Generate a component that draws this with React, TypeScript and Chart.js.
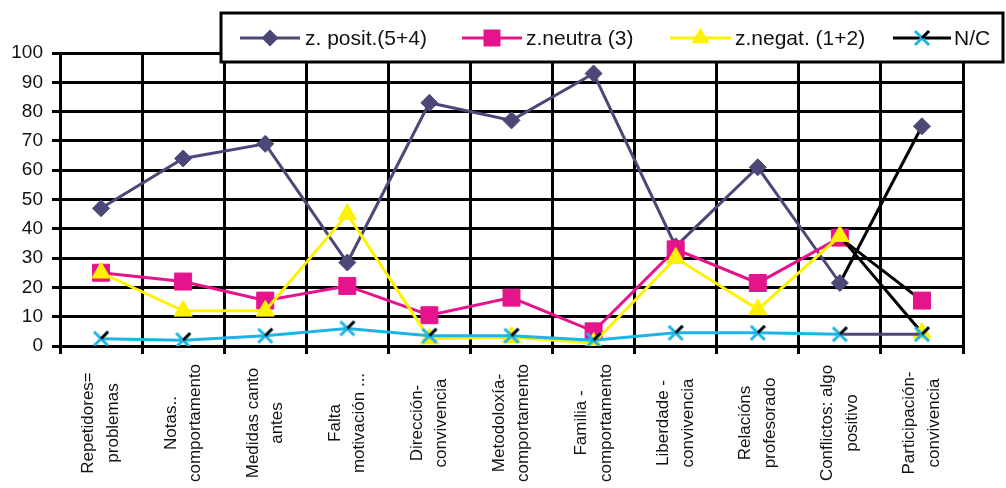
import React, { useEffect, useRef } from 'react';
import { Chart, registerables } from 'chart.js';

Chart.register(...registerables);

// ---------- data ----------
const categories: string[][] = [
  ['Repetidores=', 'problemas'],
  ['Notas..', 'comportamento'],
  ['Medidas canto', 'antes'],
  ['Falta', 'motivación ...'],
  ['Dirección-', 'convivencia'],
  ['Metodoloxía-', 'comportamento'],
  ['Familia -', 'comportamento'],
  ['Liberdade -', 'convivencia'],
  ['Relacións', 'profesorado'],
  ['Conflictos: algo', 'positivo'],
  ['Participación-', 'convivencia'],
];

const seriesNames = ['z. posit.(5+4)', 'z.neutra (3)', 'z.negat. (1+2)', 'N/C'];

const positValues = [47, 64, 69, 28.5, 83, 77, 93, 34, 61, 21.5, 75];
const neutraValues = [25, 22, 15.5, 20.5, 10.5, 16.5, 5, 33, 21.5, 37, 15.5];
const negatValues = [25, 12, 12, 45, 2.5, 3, 1, 30, 12.5, 37.5, 4.5];
const ncValues = [2.5, 2, 3.5, 6, 3.5, 3.5, 2, 4.5, 4.5, 4, 4];

const yMin = 0;
const yMax = 100;
const yStep = 10;

// ---------- styles ----------
const PURPLE = '#4b4878';
const MAGENTA = '#e6148c';
const YELLOW = '#fff200';
const CYAN = '#1eb4e6';
const BLACK = '#000000';
const FONT = '"Liberation Sans", Arial, sans-serif';

function makeNCMarker(): HTMLCanvasElement {
  const c = document.createElement('canvas');
  c.width = 18;
  c.height = 18;
  const g = c.getContext('2d')!;
  g.lineWidth = 3;
  g.strokeStyle = CYAN;
  g.beginPath();
  g.moveTo(2, 2);
  g.lineTo(16, 16);
  g.moveTo(2, 16);
  g.lineTo(16, 2);
  g.stroke();
  g.strokeStyle = BLACK;
  g.lineWidth = 2.8;
  g.beginPath();
  g.moveTo(9, 9);
  g.lineTo(16, 2);
  g.stroke();
  return c;
}

function drawMarker(ctx: CanvasRenderingContext2D, kind: string, x: number, y: number, color: string, img?: HTMLCanvasElement) {
  ctx.save();
  ctx.fillStyle = color;
  ctx.beginPath();
  if (kind === 'diamond') {
    const r = 8.5;
    ctx.moveTo(x - r, y);
    ctx.lineTo(x, y - r);
    ctx.lineTo(x + r, y);
    ctx.lineTo(x, y + r);
    ctx.closePath();
    ctx.fill();
  } else if (kind === 'square') {
    const s = 8.5;
    ctx.rect(x - s, y - s, 2 * s, 2 * s);
    ctx.fill();
  } else if (kind === 'triangle') {
    const r = 10.5;
    ctx.moveTo(x, y - r);
    ctx.lineTo(x + r * Math.sin((2 * Math.PI) / 3), y + r / 2);
    ctx.lineTo(x - r * Math.sin((2 * Math.PI) / 3), y + r / 2);
    ctx.closePath();
    ctx.fill();
  } else if (kind === 'nc' && img) {
    ctx.drawImage(img, x - img.width / 2, y - img.height / 2);
  }
  ctx.restore();
}

export default function App() {
  const ref = useRef<HTMLCanvasElement | null>(null);

  useEffect(() => {
    if (!ref.current) return;
    const ncImg = makeNCMarker();

    const lastSeg = (color: string) => (ctx: any) => (ctx.p0DataIndex === categories.length - 2 ? color : undefined);

    const xLabelsPlugin = {
      id: 'xLabelsCustom',
      afterDraw(chart: any) {
        const ctx: CanvasRenderingContext2D = chart.ctx;
        const xs = chart.scales.x;
        ctx.save();
        ctx.font = `17px ${FONT}`;
        ctx.fillStyle = '#111111';
        ctx.textAlign = 'center';
        ctx.textBaseline = 'middle';
        categories.forEach((lines, i) => {
          const x = xs.getPixelForTick(i);
          ctx.save();
          ctx.translate(x, 423);
          ctx.rotate(-Math.PI / 2);
          lines.forEach((ln, j) => {
            ctx.fillText(ln, 0, (j - (lines.length - 1) / 2) * 24.5);
          });
          ctx.restore();
        });
        ctx.restore();
      },
    };

    const legendPlugin = {
      id: 'legendBox',
      afterDraw(chart: any) {
        const ctx: CanvasRenderingContext2D = chart.ctx;
        ctx.save();
        const bx = 221, by = 13, bw = 1003 - 221, bh = 62 - 13;
        ctx.fillStyle = '#ffffff';
        ctx.fillRect(bx, by, bw, bh);
        ctx.lineWidth = 3;
        ctx.strokeStyle = BLACK;
        ctx.strokeRect(bx, by, bw, bh);
        const items = [
          { x0: 240, x1: 300, tx: 305, line: PURPLE, marker: 'diamond', mc: PURPLE },
          { x0: 462, x1: 522, tx: 526, line: MAGENTA, marker: 'square', mc: MAGENTA },
          { x0: 670, x1: 731, tx: 735, line: YELLOW, marker: 'triangle', mc: YELLOW },
          { x0: 893, x1: 951, tx: 954, line: BLACK, marker: 'nc', mc: CYAN },
        ];
        const y = 38;
        items.forEach((it, i) => {
          ctx.strokeStyle = it.line;
          ctx.lineWidth = 3;
          ctx.beginPath();
          ctx.moveTo(it.x0, y);
          ctx.lineTo(it.x1, y);
          ctx.stroke();
          drawMarker(ctx, it.marker, (it.x0 + it.x1) / 2, y, it.mc, ncImg);
          ctx.fillStyle = '#111111';
          ctx.font = `21px ${FONT}`;
          ctx.textAlign = 'left';
          ctx.textBaseline = 'middle';
          ctx.fillText(seriesNames[i], it.tx, y + 1);
        });
        ctx.restore();
      },
    };

    const chart = new Chart(ref.current, {
      type: 'line',
      data: {
        labels: categories,
        datasets: [
          {
            label: seriesNames[0],
            data: positValues,
            borderColor: PURPLE,
            backgroundColor: PURPLE,
            borderWidth: 3,
            pointStyle: 'rectRot',
            pointRadius: 8.5,
            pointBorderWidth: 1,
            pointBorderColor: PURPLE,
            pointBackgroundColor: PURPLE,
            tension: 0,
            order: 4,
            segment: { borderColor: lastSeg(BLACK) },
          },
          {
            label: seriesNames[1],
            data: neutraValues,
            borderColor: MAGENTA,
            backgroundColor: MAGENTA,
            borderWidth: 3,
            pointStyle: 'rect',
            pointRadius: 12,
            pointBorderWidth: 1,
            pointBorderColor: MAGENTA,
            pointBackgroundColor: MAGENTA,
            tension: 0,
            order: 3,
            segment: { borderColor: lastSeg(BLACK) },
          },
          {
            label: seriesNames[2],
            data: negatValues,
            borderColor: YELLOW,
            backgroundColor: YELLOW,
            borderWidth: 3,
            pointStyle: 'triangle',
            pointRadius: 10.5,
            pointBorderWidth: 1,
            pointBorderColor: YELLOW,
            pointBackgroundColor: YELLOW,
            tension: 0,
            order: 2,
            segment: { borderColor: lastSeg(BLACK) },
          },
          {
            label: seriesNames[3],
            data: ncValues,
            borderColor: CYAN,
            backgroundColor: CYAN,
            borderWidth: 3,
            pointStyle: ncImg as any,
            pointRadius: 9,
            tension: 0,
            order: 1,
            segment: { borderColor: lastSeg(PURPLE) },
          },
        ],
      },
      options: {
        responsive: false,
        animation: false,
        events: [],
        layout: { padding: { top: 53, right: 43, left: 0, bottom: 0 } },
        plugins: {
          legend: { display: false },
          tooltip: { enabled: false },
        },
        scales: {
          x: {
            offset: true,
            grid: { offset: true, color: BLACK, lineWidth: 3, tickLength: 8, drawTicks: true },
            border: { color: BLACK, width: 3 },
            ticks: { display: false },
            afterFit: (s: any) => {
              s.height = 142;
            },
          },
          y: {
            min: yMin,
            max: yMax,
            grid: { color: BLACK, lineWidth: 3, tickLength: 8, drawTicks: true },
            border: { color: BLACK, width: 3 },
            ticks: {
              stepSize: yStep,
              padding: 9,
              color: '#111111',
              font: { family: FONT, size: 19 },
            },
            afterFit: (s: any) => {
              s.width = 60;
            },
          },
        },
      },
      plugins: [xLabelsPlugin, legendPlugin],
    });

    return () => chart.destroy();
  }, []);

  return (
    <div style={{ position: 'fixed', left: 0, top: 0, width: 1006, height: 488, background: '#fff' }}>
      <canvas ref={ref} width={1006} height={488} style={{ display: 'block', width: 1006, height: 488 }} />
    </div>
  );
}
